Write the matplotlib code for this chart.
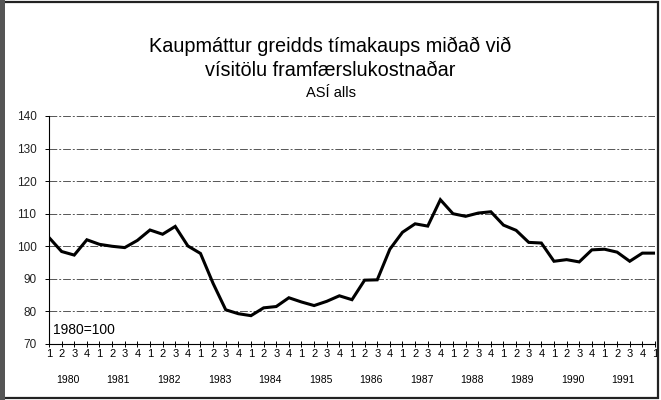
import matplotlib
matplotlib.use("Agg")
import matplotlib.pyplot as plt
from matplotlib.transforms import blended_transform_factory
from matplotlib.patches import Rectangle

plt.rcParams["font.family"] = ["Liberation Sans", "DejaVu Sans"]

# Quarterly index, 1980 Q1 .. 1992 Q1 (1980 = 100)
years = [1980, 1981, 1982, 1983, 1984, 1985, 1986, 1987, 1988, 1989, 1990, 1991]
quarters = ["1", "2", "3", "4"] * len(years) + ["1"]
values = [
    102.7, 98.4, 97.3, 102.0, 100.6, 100.0, 99.6, 101.8,
    105.0, 103.7, 106.1, 100.1, 97.8, 88.6, 80.5, 79.3,
    78.7, 81.1, 81.5, 84.2, 82.9, 81.8, 83.1, 84.8,
    83.6, 89.6, 89.7, 99.1, 104.3, 106.9, 106.2, 114.3,
    110.0, 109.2, 110.2, 110.6, 106.5, 104.9, 101.2, 101.0,
    95.4, 95.9, 95.2, 98.9, 99.1, 98.2, 95.4, 97.9, 97.9,
]
yticks = [70, 80, 90, 100, 110, 120, 130, 140]

fig = plt.figure(figsize=(6.61, 4.0), dpi=100)
fig.patch.set_facecolor("white")

# scanned frame around the figure
fig.patches.append(Rectangle((0.004, 0.006), 0.991, 0.988, transform=fig.transFigure,
                             fill=False, edgecolor="#222222", lw=1.6))
fig.patches.append(Rectangle((0.0, 0.0), 0.007, 1.0, transform=fig.transFigure,
                             facecolor="#555555", edgecolor="none"))

ax = fig.add_axes([0.0741, 0.14, 0.9168, 0.57])
x = list(range(len(values)))
ax.plot(x, values, color="black", lw=2.2, solid_joinstyle="miter", zorder=3)

ax.set_xlim(0, len(values) - 1)
ax.set_ylim(70, 140)
ax.set_yticks(yticks)
ax.set_yticklabels([str(v) for v in yticks], fontsize=8.5, color="#222222")
ax.set_xticks(x)
ax.set_xticklabels(quarters, fontsize=8)
ax.tick_params(axis="x", direction="inout", length=5, width=0.7, pad=1)
ax.tick_params(axis="y", direction="out", length=3, width=0.7, pad=6)

for v in yticks[1:]:
    ax.axhline(v, color="#555555", lw=0.7, ls=(0, (8, 2, 2, 2)), zorder=1)

for s in ["top", "right"]:
    ax.spines[s].set_visible(False)
ax.spines["left"].set_linewidth(0.8)
ax.spines["bottom"].set_linewidth(0.8)

trans = blended_transform_factory(ax.transData, ax.transAxes)
for i, yr in enumerate(years):
    ax.text(4 * i + 1.5, -0.158, str(yr), transform=trans, ha="center", va="center",
            fontsize=7.5)

ax.text(0.006, 0.06, "1980=100", transform=ax.transAxes, ha="left", va="center",
        fontsize=10)

fig.text(0.5, 0.885, "Kaupmáttur greidds tímakaups miðað við", ha="center",
         va="center", fontsize=14.3)
fig.text(0.5, 0.823, "vísitölu framfærslukostnaðar", ha="center", va="center",
         fontsize=14.3)
fig.text(0.5, 0.768, "ASÍ alls", ha="center", va="center", fontsize=10.5)

fig.savefig("out.png", dpi=100)
